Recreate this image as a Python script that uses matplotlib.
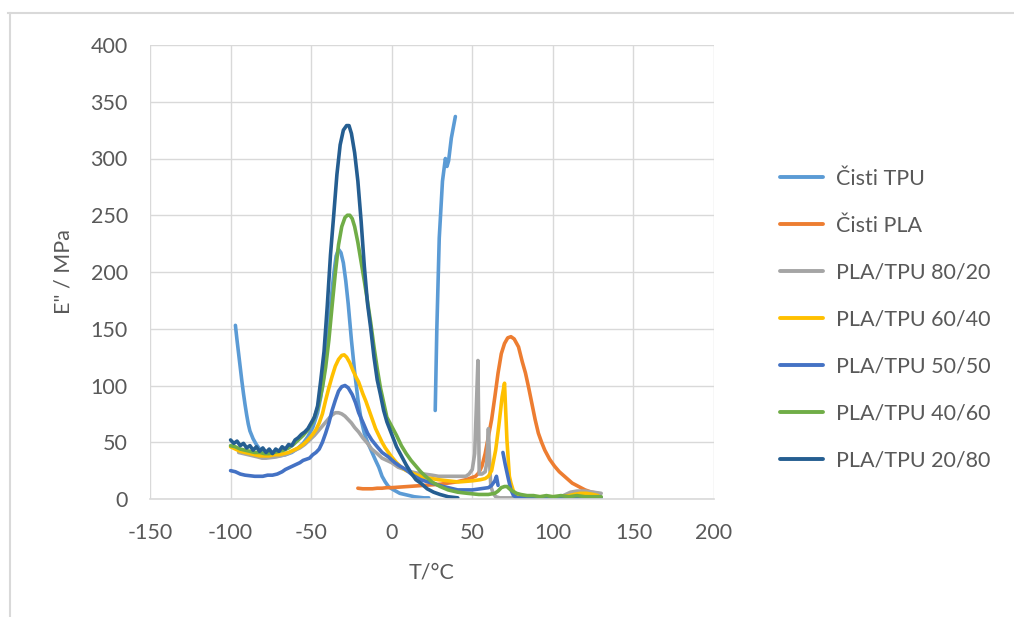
import numpy as np
import matplotlib
matplotlib.use("Agg")
import matplotlib.pyplot as plt
from matplotlib.lines import Line2D

nan = np.nan

# ---------------- data ----------------
tpu_T = [-97, -96, -95, -94, -93, -92, -91, -90, -89, -88, -86, -84, -82, -80, -77, -74, -70, -66, -62,
         -58, -55, -52, -49, -46, -44, -42, -40, -38, -36, -34.5, -33, -31.5, -30, -28.5, -27, -25, -23,
         -21, -19, -17, -15, -12.5, -10, -8, -6, -4, -2, 0, 2.5, 5, 8, 11, 14, 17, 20, 23,
         nan, 27, 28, 29.5, 31.5, 33.3, 34.3, 35.3, 37, 39.5]
tpu_E = [153, 140, 128, 116, 104, 93, 83, 74, 66, 60, 53, 48, 44, 41, 39, 38, 38, 39, 41,
         45, 49, 55, 63, 76, 90, 110, 140, 170, 198, 214, 220, 217, 208, 192, 172, 140, 112,
         88, 70, 58, 50, 42, 34, 28, 20, 15, 11, 9, 7, 5, 4, 3, 2, 1.5, 1, 1,
         nan, 78, 150, 230, 280, 300, 293, 298, 318, 337]

pla_T = [-21, -18, -15, -12, -9, -6, -3, 0, 5, 10, 15, 20, 25, 30, 35, 40, 46, 50, 52, 54, 56, 58,
         60, 62, 64, 66, 68, 70, 72, 74, 76, 78.7, 81, 83, 85, 87, 89, 91, 93, 95, 98, 101, 104,
         108, 112, 116, 120, 124, 128]
pla_E = [9.5, 9, 9, 9, 9.5, 9.5, 10, 10, 10.5, 11, 11.5, 12, 12.5, 13, 14, 15, 17, 19, 20, 23, 29, 40,
         55, 70, 90, 111, 128, 137, 142, 143, 141, 134, 121, 111, 98, 84, 70, 58, 50, 43, 35, 29, 24,
         19, 14, 11, 8, 6, 5]

p8020_T = [-95, -92, -89, -86, -83, -80.5, -78, -75, -72, -69, -66, -63, -60, -57, -54, -51, -48, -45,
           -42, -39, -37, -35, -33, -31, -29, -27, -25, -23, -20.5, -18, -15, -12.4, -9, -6, -3, 0,
           4, 8, 12, 15, 20, 25, 29, 35, 40, 46, 48, 50, 51.5, 52.5, 53.5, 54.3, 56, 58, 59, 60, 61,
           61.5, 63, 64.5, 67, 70, 75, 80, 90, 100, 105, 108, 111, 115, 120, 125, 130]
p8020_E = [41, 40, 39, 38, 37, 36, 36, 36.5, 37, 38, 39, 41, 43, 45, 48, 52, 56, 61,
           66, 71, 74, 76, 76, 75, 73, 70, 67, 63, 59, 54, 49, 44, 40, 36, 34, 32,
           28, 26, 24, 23, 22, 21, 20, 20, 20, 20, 22, 26, 40, 80, 122, 22, 22, 24, 32, 62, 25,
           11, 5, 2, 1, 1, 1, 1, 1, 1, 2, 4, 6, 7, 7, 6, 5]

p6040_T = [-100, -97, -94, -91, -88, -85, -82, -79, -76, -73, -70, -67, -64, -61, -58, -55, -52, -49,
           -47, -45, -43, -41, -39, -37, -35, -33, -31, -29.5, -28, -26, -24, -22, -20.5, -18, -16,
           -14, -12, -10, -8, -6, -4, -2, 0, 3, 6, 9, 12.4, 16, 20, 25, 29, 35, 41.5, 50, 55, 58, 60,
           62, 64.5, 66.5, 68.5, 70, 71.5, 73, 74, 75.5, 77, 80, 85, 90, 95, 100, 105, 110, 113, 117,
           121, 125, 128]
p6040_E = [46, 44, 42, 41, 40, 39, 38, 38, 38, 39, 39, 40, 41, 43, 45, 48, 52, 57,
           61, 67, 75, 87, 98, 108, 117, 123, 126.5, 127, 125, 120, 113, 107, 103, 93, 86,
           78, 70, 62, 56, 50, 45, 41, 37, 32, 28, 25, 23, 21, 19, 18, 17, 16, 15, 16, 17, 18, 20,
           25, 43, 65, 90, 102, 52, 20, 14, 7, 3, 2, 2, 2, 2, 2, 2, 3, 4, 5,
           5, 4, 3]

p5050_T = [-100, -97, -94, -91, -88, -85, -82.5, -80, -77, -74, -71, -68, -66, -63, -60, -57, -55, -53,
           -51, -49, -47, -45, -43, -41, -39, -37, -35, -33, -31, -29, -27, -24.5, -22.5, -20.5, -18,
           -15, -12.4, -9, -6, -2, 2, 5, 8.7, 13, 18, 25, 32, 41, 50, 55, 60, 62, 64, 65, 66,
           nan, 69, 70.5, 72.5, 74, 75.6, 78, 85, 95, 105, 115, 125, 130]
p5050_E = [25, 24, 22, 21, 20.5, 20, 20, 20, 21, 21, 22, 24, 26, 28, 30, 32, 34, 35,
           36, 39, 41, 44, 50, 58, 67, 78, 87, 95, 99, 100, 98, 92, 85, 76, 68,
           58, 52, 46, 41, 37, 32, 29, 26, 21, 17, 14, 11, 8, 8, 9, 10, 12, 16, 20, 12,
           nan, 41, 30, 17, 8, 3, 1, 1, 1, 1, 1, 1, 1]

p4060_T = [-100, -97, -94, -91, -88, -85, -82, -79, -76, -73, -70, -67, -64, -61, -58, -55, -52, -49,
           -46, -43, -41, -39, -37, -35, -33, -31, -29, -27.5, -26, -24.5, -23, -21, -19, -17, -15,
           -13, -11, -9, -7, -5, -3, 0, 3, 6, 9, 12, 15, 18, 21, 25, 30, 35, 41, 47, 54, 60, 64, 66,
           68, 70, 71.5, 73, 75, 77.5, 80, 84, 88, 92, 96, 100, 105, 110, 115, 120, 125, 130]
p4060_E = [47, 46, 44, 43, 42, 41, 41, 40, 40, 41, 42, 43, 45, 48, 52, 56, 61, 68,
           80, 98, 116, 140, 170, 199, 224, 240, 248, 250, 250, 247, 240, 226, 209, 192, 174,
           155, 134, 115, 98, 85, 72, 64, 56, 47, 40, 34, 29, 24, 20, 15, 11, 8, 6, 5, 4, 4, 5, 7,
           10, 11, 11, 9, 7, 5, 4, 3, 3, 2, 3, 2, 3, 2, 3, 2, 2, 2]

p2080_T = [-100, -98, -96, -94, -92, -90, -88, -86, -84, -82, -80, -78, -76, -74, -72, -70, -68, -66,
           -64, -62, -60, -58, -56, -54, -52, -50, -48, -46, -44, -42, -40, -38, -36, -34, -32, -30,
           -28, -26.5, -25, -23, -21, -19, -17, -15, -13, -11, -9, -7, -5, -3, 0, 3, 6, 9, 12, 15,
           18, 22, 26, 30, 35, 41]
p2080_E = [52, 49, 51, 47, 49, 45, 47, 43, 46, 42, 45, 41, 44, 40, 44, 42, 46, 44,
           48, 47, 52, 54, 57, 59, 62, 67, 72, 82, 105, 130, 170, 215, 250, 286, 312, 325,
           329, 329, 322, 305, 280, 245, 205, 172, 150, 125, 105, 92, 78, 68, 57, 46, 38, 30, 23, 17,
           14, 9, 6, 4, 2, 1]

series = [
    ("Čisti TPU", tpu_T, tpu_E, "#5B9BD5"),
    ("Čisti PLA", pla_T, pla_E, "#ED7D31"),
    ("PLA/TPU 80/20", p8020_T, p8020_E, "#A5A5A5"),
    ("PLA/TPU 60/40", p6040_T, p6040_E, "#FFC000"),
    ("PLA/TPU 50/50", p5050_T, p5050_E, "#4472C4"),
    ("PLA/TPU 40/60", p4060_T, p4060_E, "#70AD47"),
    ("PLA/TPU 20/80", p2080_T, p2080_E, "#255E91"),
]

x_ticks = [-150, -100, -50, 0, 50, 100, 150, 200]
y_ticks = [0, 50, 100, 150, 200, 250, 300, 350, 400]

# ---------------- figure ----------------
plt.rcParams['font.family'] = ['Lato', 'DejaVu Sans']
plt.rcParams['axes.unicode_minus'] = False
W, H = 1014, 617
fig = plt.figure(figsize=(W / 100, H / 100), dpi=100)
ax = fig.add_axes([150 / W, 1 - 499 / H, 564 / W, 454 / H])

for name, T, E, c in series:
    ax.plot(T, E, color=c, lw=2.6, label=name, solid_capstyle='round', solid_joinstyle='round')

ax.set_xlim(-150, 200)
ax.set_ylim(0, 400)
ax.set_xticks(x_ticks)
ax.set_yticks(y_ticks)
ax.grid(True, color='#D9D9D9', lw=1.0)
ax.set_axisbelow(True)
for s in ['top', 'right', 'left']:
    ax.spines[s].set_visible(False)
ax.spines['bottom'].set_color('#D9D9D9')
ax.spines['bottom'].set_linewidth(1.2)
ax.tick_params(axis='both', length=0, labelsize=15.5, labelcolor='#595959')
ax.tick_params(axis='x', pad=17)
ax.tick_params(axis='y', pad=16)

ax.set_xlabel("T/°C", fontsize=15.5, color='#595959', labelpad=14)
ax.set_ylabel('E" / MPa', fontsize=15.5, color='#595959', labelpad=12)

leg = ax.legend(loc='center left', bbox_to_anchor=(780 / W, 1 - 319.5 / H),
                bbox_transform=fig.transFigure, frameon=False, fontsize=15.5,
                handlelength=2.0, handletextpad=0.6, labelspacing=1.25,
                borderpad=0, borderaxespad=0)
for t in leg.get_texts():
    t.set_color('#595959')
for l in leg.get_lines():
    l.set_linewidth(2.8)

# outer frame lines
fig.add_artist(Line2D([8 / W, 1], [1 - 13 / H, 1 - 13 / H], transform=fig.transFigure,
                      color='#D9D9D9', lw=1.5))
fig.add_artist(Line2D([9.5 / W, 9.5 / W], [1 - 13 / H, 0], transform=fig.transFigure,
                      color='#D9D9D9', lw=1.5))

fig.savefig("out.png", dpi=100)
